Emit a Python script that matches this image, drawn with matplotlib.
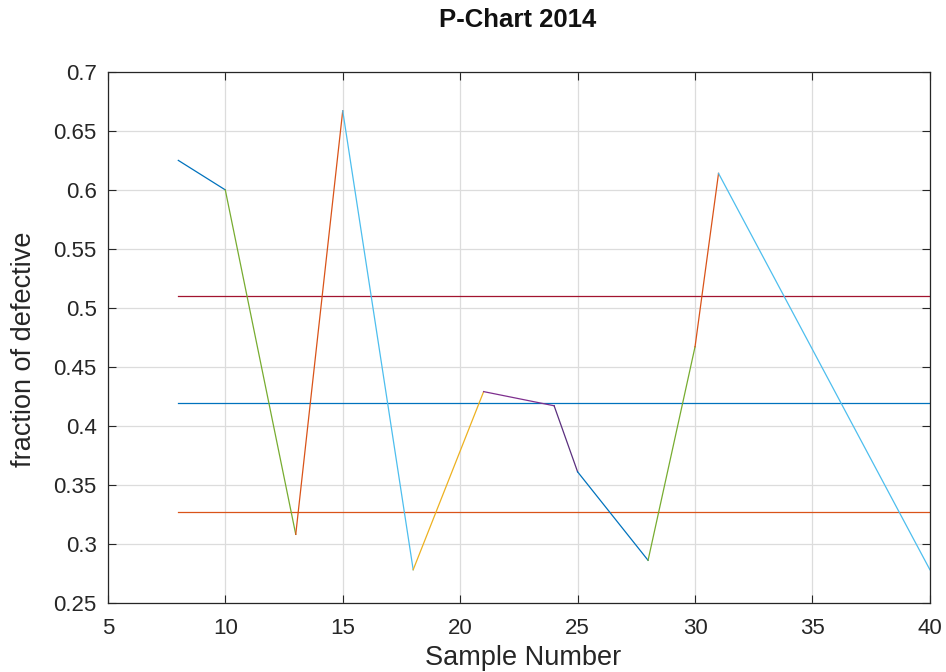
import matplotlib.pyplot as plt

plt.rcParams['font.family'] = ['Liberation Sans', 'DejaVu Sans']

# sample numbers and fraction defective
sample = [8, 10, 13, 15, 18, 21, 24, 25, 28, 30, 31, 40]
frac = [0.625, 0.600, 0.308, 0.667, 0.278, 0.429, 0.417, 0.361, 0.286, 0.467, 0.614, 0.278]

# colour of each segment between consecutive samples
seg_colors = ['#0072BD', '#77AC30', '#D95319', '#4DBEEE', '#EDB120', '#7E2F8E',
              '#5a2f7e', '#0072BD', '#77AC30', '#D95319', '#4DBEEE']

# control limits
ucl = 0.510
center = 0.419
lcl = 0.327
limit_x = [8, 40]


def main():
    fig = plt.figure(figsize=(9.46, 6.72), dpi=100)
    ax = fig.add_axes([0.114, 0.103, 0.869, 0.790])

    ax.plot(limit_x, [ucl, ucl], color='#A2142F', lw=0.9)
    ax.plot(limit_x, [center, center], color='#0072BD', lw=0.9)
    ax.plot(limit_x, [lcl, lcl], color='#D95319', lw=0.9)

    for i in range(len(sample) - 1):
        ax.plot(sample[i:i + 2], frac[i:i + 2], color=seg_colors[i], lw=0.9)

    ax.set_xlim(5, 40)
    ax.set_ylim(0.25, 0.7)
    ax.set_xticks(range(5, 41, 5))
    ax.set_yticks([0.25, 0.3, 0.35, 0.4, 0.45, 0.5, 0.55, 0.6, 0.65, 0.7])
    ax.set_yticklabels(['0.25', '0.3', '0.35', '0.4', '0.45', '0.5', '0.55', '0.6', '0.65', '0.7'])
    ax.grid(True, color='#dcdcdc', lw=0.9)
    ax.set_axisbelow(True)
    ax.tick_params(direction='in', top=True, right=True, labelsize=16,
                   colors='#262626', length=6, width=0.8)
    ax.tick_params(axis='x', pad=11)
    ax.tick_params(axis='y', pad=8)
    for s in ax.spines.values():
        s.set_color('#262626')
        s.set_linewidth(0.9)

    ax.set_xlabel('Sample Number', fontsize=19.5, color='#262626', va='center')
    ax.xaxis.set_label_coords(0.505, -0.1036)
    ax.set_ylabel('fraction of defective', fontsize=19.5, color='#262626', va='center')
    ax.yaxis.set_label_coords(-0.102, 0.478)
    fig.text(0.5476, 0.970, 'P-Chart 2014', ha='center', va='center',
             fontsize=18.5, fontweight='bold', color='#111111')

    fig.savefig('out.png', dpi=100)


if __name__ == '__main__':
    main()
